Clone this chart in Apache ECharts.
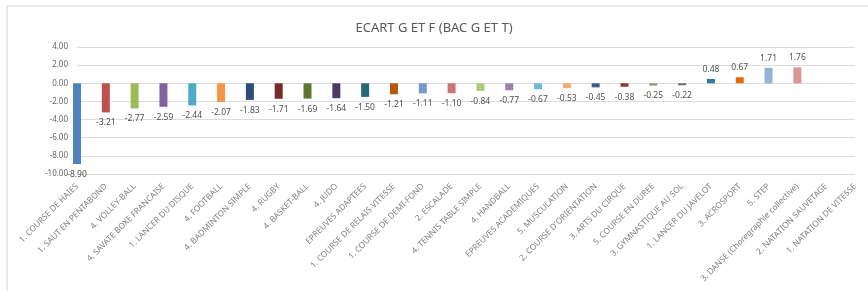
<!DOCTYPE html>
<html>
<head>
<meta charset="utf-8">
<script src="https://cdn.jsdelivr.net/npm/echarts@6/dist/echarts.min.js"></script>
<style>
  html, body { margin: 0; padding: 0; background: #fff; }
  #main { width: 868px; height: 291px; }
</style>
</head>
<body>
<div id="main"></div>
<script>
var categories = [
  '1. COURSE DE HAIES', '1. SAUT EN PENTABOND', '4. VOLLEY-BALL', '4. SAVATE BOXE FRANCAISE',
  '1. LANCER DU DISQUE', '4. FOOTBALL', '4. BADMINTON SIMPLE', '4. RUGBY', '4. BASKET-BALL',
  '4. JUDO', 'EPREUVES ADAPTEES', '1. COURSE DE RELAIS VITESSE', '1. COURSE DE DEMI-FOND',
  '2. ESCALADE', '4. TENNIS TABLE SIMPLE', '4. HANDBALL', 'EPREUVES ACADEMIQUES',
  '5. MUSCULATION', "2. COURSE D'ORIENTATION", '3. ARTS DU CIRQUE', '5. COURSE EN DUREE',
  '3. GYMNASTIQUE AU SOL', '1. LANCER DU JAVELOT', '3. ACROSPORT', '5. STEP',
  '3. DANSE (Choregraphie collective)', '2. NATATION SAUVETAGE', '1. NATATION DE VITESSE'
];
var ecart = [
  -8.90, -3.21, -2.77, -2.59, -2.44, -2.07, -1.83, -1.71, -1.69, -1.64, -1.50, -1.21,
  -1.11, -1.10, -0.84, -0.77, -0.67, -0.53, -0.45, -0.38, -0.25, -0.22, 0.48, 0.67,
  1.71, 1.76, null, null
];
var yTicks = { min: -10, max: 4, step: 2 };

// couleurs "varier par point" facon Excel
var palette = [
  '#4F81BD', '#C0504D', '#9BBB59', '#8064A2', '#4BACC6', '#F79646',
  '#2C4D75', '#772C2A', '#5F7530', '#4D3B62', '#276A7C', '#B65708',
  '#729ACA', '#CD7371', '#AFC97A', '#9983B5', '#6FBDD1', '#F9AB6B',
  '#3A5F8F', '#8E3431', '#8A9A6A', '#6E6A78', '#2F7F93', '#E46C0A',
  '#95B3D7', '#D99694', '#C3D69B', '#B3A2C7'
];

var myChart = echarts.init(document.getElementById('main'));

var barData = ecart.map(function (v, i) {
  if (v === null) return null;
  return {
    value: v,
    itemStyle: { color: palette[i % palette.length] },
    label: { position: v < 0 ? 'bottom' : 'top', distance: v < 0 ? 6 : 5 }
  };
});

var option = {
  animation: false,
  backgroundColor: '#fff',
  title: {
    text: 'ECART G ET F (BAC G ET T)',
    left: 'center',
    top: 17,
    textStyle: { fontSize: 13, fontWeight: 'normal', color: '#595959', fontFamily: 'Noto Sans' }
  },
  graphic: [{
    type: 'polyline',
    shape: { points: [[7, 291], [7, 6], [868, 6]] },
    style: { stroke: '#e2e2e2', lineWidth: 1.5, fill: null }
  }],
  grid: { left: 77, right: 13, top: 47, bottom: 117 },
  xAxis: {
    type: 'category',
    data: categories,
    boundaryGap: false,
    axisLine: { show: false },
    axisTick: { show: false },
    axisLabel: {
      interval: 0,
      rotate: 45,
      fontSize: 8.3,
      color: '#7f7f7f',
      margin: 11,
      fontFamily: 'Noto Sans'
    }
  },
  yAxis: {
    type: 'value',
    min: yTicks.min,
    max: yTicks.max,
    interval: yTicks.step,
    axisLine: { show: false },
    axisTick: { show: false },
    splitLine: { lineStyle: { color: '#dcdcdc', width: 1 } },
    axisLabel: {
      fontSize: 8,
      color: '#666',
      margin: 9,
      fontFamily: 'Noto Sans',
      formatter: function (v) { return v.toFixed(2); }
    }
  },
  series: [{
    type: 'bar',
    data: barData,
    barWidth: 8,
    label: {
      show: true,
      fontSize: 8.5,
      color: '#505050',
      fontFamily: 'Noto Sans',
      formatter: function (p) { return p.value.toFixed(2); }
    }
  }]
};

myChart.setOption(option);
</script>
</body>
</html>
